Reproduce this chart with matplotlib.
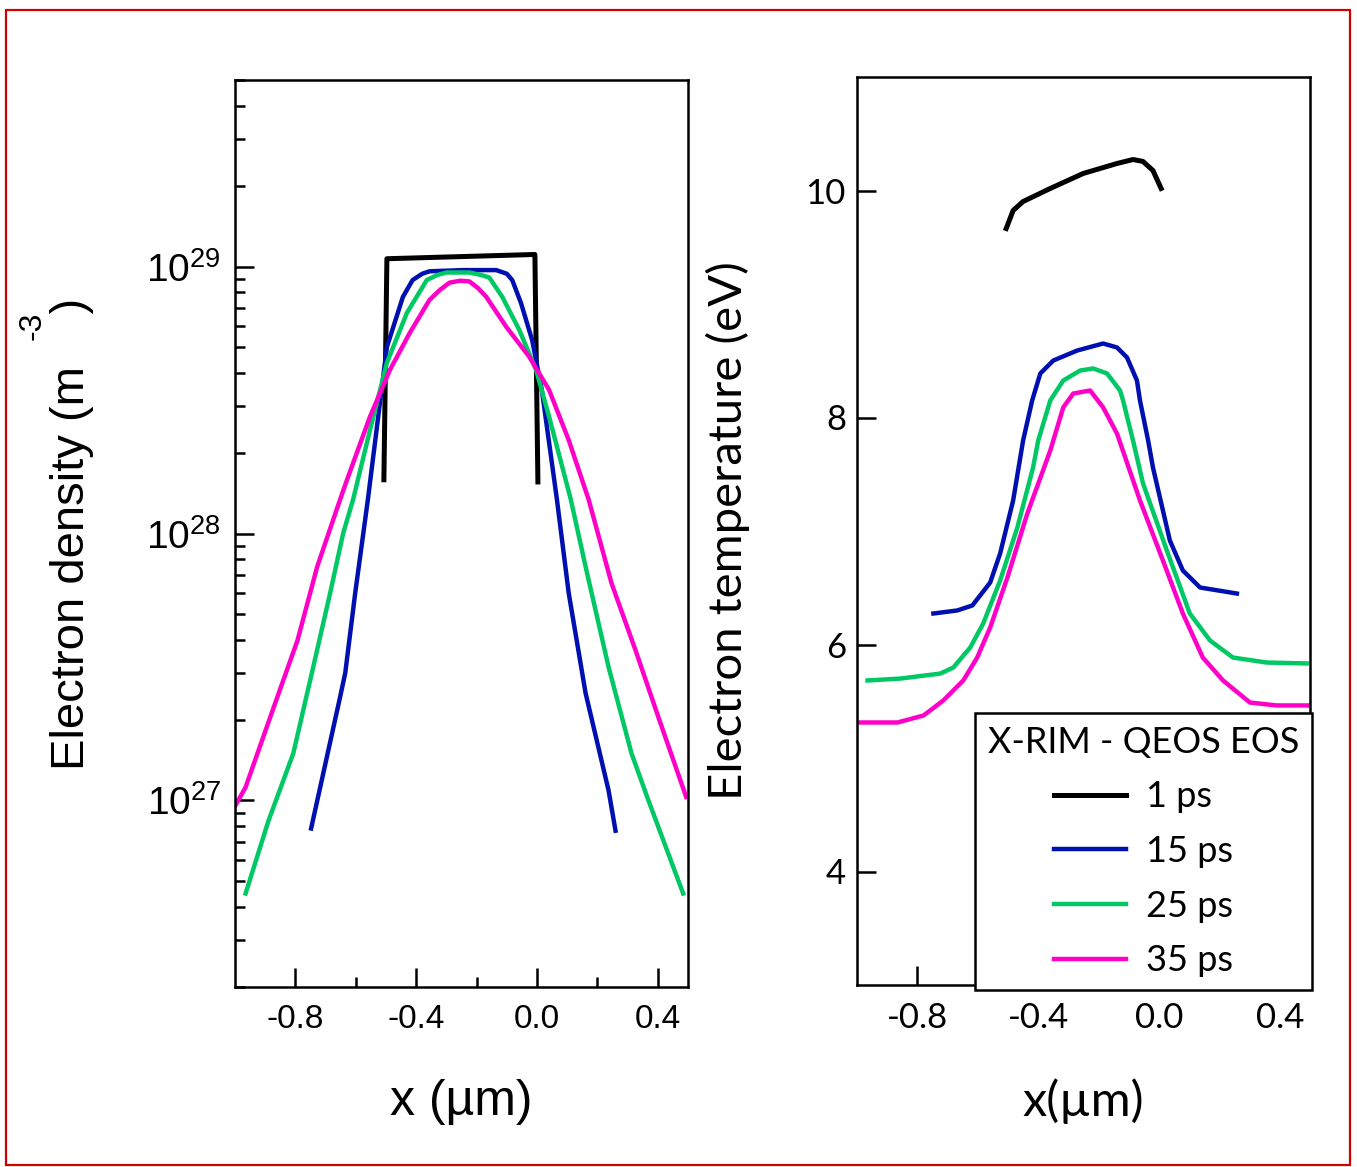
"""Electron density and temperature profiles, X-RIM with QEOS EOS."""

import math
import matplotlib
matplotlib.use("Agg")
import matplotlib.pyplot as plt
from matplotlib.ticker import FixedLocator, LogLocator, FuncFormatter, NullFormatter
from matplotlib.patches import Rectangle

plt.rcParams['font.family'] = ['Liberation Sans', 'DejaVu Sans']
plt.rcParams['mathtext.fontset'] = 'custom'
plt.rcParams['mathtext.rm'] = 'Liberation Sans'
plt.rcParams['mathtext.it'] = 'Liberation Sans:italic'

# ---- left panel: electron density (m^-3) ----
x_dens_1 = [-0.507, -0.497, -0.25, -0.007, 0.003]
n_dens_1 = [1.59e28, 1.07e29, 1.09e29, 1.11e29, 1.56e28]

x_dens_15 = [-0.748, -0.652, -0.635, -0.602, -0.560, -0.497, -0.444, -0.412, -0.380, -0.356,
             -0.247, -0.135, -0.100, -0.082, -0.053, -0.016, 0.016, 0.066, 0.105, 0.161,
             0.237, 0.260]
n_dens_15 = [7.85e26, 2.44e27, 3.0e27, 5.98e27, 1.34e28, 5.0e28, 7.7e28, 8.9e28, 9.4e28, 9.6e28,
             9.7e28, 9.7e28, 9.4e28, 8.9e28, 7.3e28, 5.3e28, 3.45e28, 1.34e28, 5.98e27, 2.52e27,
             1.09e27, 7.7e26]

x_dens_25 = [-0.965, -0.889, -0.807, -0.741, -0.685, -0.642, -0.609, -0.553, -0.497, -0.431,
             -0.365, -0.330, -0.300, -0.224, -0.185, -0.158, -0.115, -0.059, -0.003, 0.040,
             0.112, 0.161, 0.237, 0.313, 0.369, 0.484]
n_dens_25 = [4.48e26, 8.4e26, 1.5e27, 3.16e27, 5.98e27, 1.0e28, 1.34e28, 2.44e28, 4.36e28, 6.7e28,
             8.9e28, 9.3e28, 9.5e28, 9.5e28, 9.3e28, 9.1e28, 7.7e28, 5.8e28, 4.1e28, 2.74e28,
             1.34e28, 7.5e27, 3.16e27, 1.5e27, 1.0e27, 4.48e26]

x_dens_35 = [-0.998, -0.965, -0.872, -0.793, -0.728, -0.652, -0.629, -0.553, -0.487, -0.421,
             -0.356, -0.320, -0.290, -0.255, -0.224, -0.195, -0.168, -0.102, -0.026, 0.040,
             0.105, 0.171, 0.247, 0.326, 0.402, 0.494]
n_dens_35 = [9.6e26, 1.12e27, 2.23e27, 3.98e27, 7.5e27, 1.34e28, 1.59e28, 2.74e28, 4.1e28, 5.65e28,
             7.5e28, 8.2e28, 8.7e28, 8.85e28, 8.8e28, 8.3e28, 7.7e28, 5.95e28, 4.6e28, 3.45e28,
             2.24e28, 1.34e28, 6.5e27, 3.66e27, 2.05e27, 1.03e27]

# ---- right panel: electron temperature (eV) ----
x_temp_1 = [-0.506, -0.483, -0.450, -0.360, -0.251, -0.139, -0.086, -0.053, -0.020, 0.007]
t_temp_1 = [9.665, 9.824, 9.903, 10.018, 10.150, 10.238, 10.273, 10.256, 10.176, 10.018]

x_temp_15 = [-0.747, -0.668, -0.618, -0.559, -0.526, -0.483, -0.450, -0.420, -0.393, -0.350,
             -0.271, -0.185, -0.139, -0.106, -0.073, -0.063, -0.036, -0.020, 0.036, 0.079,
             0.136, 0.258]
t_temp_15 = [6.273, 6.300, 6.344, 6.546, 6.802, 7.269, 7.797, 8.150, 8.388, 8.502,
             8.590, 8.652, 8.617, 8.529, 8.326, 8.150, 7.797, 7.559, 6.916, 6.652,
             6.502, 6.449]

x_temp_25 = [-0.965, -0.856, -0.724, -0.681, -0.625, -0.582, -0.526, -0.469, -0.417, -0.400,
             -0.360, -0.317, -0.261, -0.218, -0.172, -0.129, -0.119, -0.086, -0.053, 0.026,
             0.102, 0.169, 0.245, 0.357, 0.489]
t_temp_25 = [5.683, 5.700, 5.744, 5.797, 5.974, 6.185, 6.564, 7.031, 7.559, 7.797,
             8.150, 8.326, 8.414, 8.432, 8.388, 8.238, 8.150, 7.797, 7.419, 6.828,
             6.273, 6.035, 5.885, 5.841, 5.833]

x_temp_35 = [-0.998, -0.866, -0.780, -0.714, -0.648, -0.602, -0.559, -0.502, -0.436, -0.360,
             -0.317, -0.284, -0.228, -0.185, -0.139, -0.063, 0.013, 0.079, 0.145, 0.212,
             0.301, 0.390, 0.493]
t_temp_35 = [5.313, 5.313, 5.374, 5.507, 5.683, 5.885, 6.150, 6.590, 7.154, 7.709,
             8.089, 8.211, 8.238, 8.089, 7.858, 7.269, 6.740, 6.273, 5.885, 5.683,
             5.489, 5.463, 5.463]

labels = ['1 ps', '15 ps', '25 ps', '35 ps']
colors = ['#000000', '#0010b0', '#00c864', '#ff00c8']
legend_title = 'X-RIM - QEOS EOS'
x_ticks = [-0.8, -0.4, 0.0, 0.4]
x_minor = [-0.6, -0.2, 0.2]
t_ticks = [4, 6, 8, 10]

W, H = 1357, 1167
fig = plt.figure(figsize=(W / 100, H / 100), dpi=100)


def fig_rect(left, top, right, bottom):
    return [left / W, 1 - bottom / H, (right - left) / W, (bottom - top) / H]


def style_axes(ax, tick_font, size):
    for sp in ax.spines.values():
        sp.set_linewidth(1.8)
    ax.tick_params(which='both', direction='in', top=False, right=False, width=1.8,
                   labelsize=size, labelfontfamily=tick_font)
    ax.tick_params(which='major', length=14)
    ax.tick_params(which='minor', length=7)
    ax.tick_params(axis='x', which='major', pad=12)


# left panel
ax1 = fig.add_axes(fig_rect(235, 80, 688, 987))
ax1.plot(x_dens_1, n_dens_1, color=colors[0], lw=3.6, solid_joinstyle='round')
ax1.plot(x_dens_15, n_dens_15, color=colors[1], lw=3.2)
ax1.plot(x_dens_25, n_dens_25, color=colors[2], lw=3.2)
ax1.plot(x_dens_35, n_dens_35, color=colors[3], lw=3.2)
ax1.set_yscale('log')
ax1.set_xlim(-1.0, 0.5)
ax1.set_ylim(2e26, 5e29)
ax1.yaxis.set_major_locator(LogLocator(base=10, numticks=10))
ax1.yaxis.set_minor_locator(LogLocator(base=10, subs=range(2, 10), numticks=20))
ax1.yaxis.set_minor_formatter(NullFormatter())
ax1.yaxis.set_major_formatter(FuncFormatter(
    lambda v, p: r'$\mathregular{10^{%d}}$' % round(math.log10(v))))
ax1.xaxis.set_major_locator(FixedLocator(x_ticks))
ax1.xaxis.set_minor_locator(FixedLocator(x_minor))
ax1.set_xticklabels(['%.1f' % v for v in x_ticks])
style_axes(ax1, 'Liberation Sans', 24)
ax1.tick_params(axis='y', which='major', pad=10, labelsize=28)
ax1.set_xlabel(u'x (\u00b5m)', fontsize=36, labelpad=32)
ax1.set_ylabel('Electron density (m    )', fontsize=34, labelpad=38)
fig.text(33 / W, 1 - 326 / H, '-3', rotation=90, fontsize=23, ha='center', va='center')

# right panel
ax2 = fig.add_axes(fig_rect(857, 77, 1310, 985))
lines = []
for xs, ts, c, lab, lw in zip([x_temp_1, x_temp_15, x_temp_25, x_temp_35],
                              [t_temp_1, t_temp_15, t_temp_25, t_temp_35],
                              colors, labels, [3.6, 3.2, 3.2, 3.2]):
    ln, = ax2.plot(xs, ts, color=c, lw=lw, label=lab)
    lines.append(ln)
ax2.set_xlim(-1.0, 0.5)
ax2.set_ylim(3, 11)
ax2.xaxis.set_major_locator(FixedLocator(x_ticks))
ax2.xaxis.set_minor_locator(FixedLocator(x_minor))
ax2.set_xticklabels(['%.1f' % v for v in x_ticks])
ax2.yaxis.set_major_locator(FixedLocator(t_ticks))
style_axes(ax2, 'Lato', 25)
ax2.tick_params(axis='y', which='major', pad=8)
ax2.set_xlabel(u'x(\u00b5m)', fontsize=35, family='Lato', labelpad=32)
ax2.set_ylabel('Electron temperature (eV)', fontsize=34, family='Lato', labelpad=40)

leg = ax2.legend(handles=lines, title=legend_title, loc='lower right',
                 bbox_to_anchor=(1312 / W, 1 - 990 / H), bbox_transform=fig.transFigure,
                 prop={'family': 'Lato', 'size': 26}, title_fontproperties={'family': 'Lato', 'size': 26},
                 frameon=True, fancybox=False, framealpha=1, edgecolor='black',
                 handlelength=2.0, handletextpad=0.55, labelspacing=0.6, borderpad=0.35,
                 borderaxespad=0)
leg.get_frame().set_linewidth(1.8)
leg.set_zorder(10)

# red outer frame
fig.patches.append(Rectangle((6 / W, 2 / H), 1344 / W, 1155 / H, transform=fig.transFigure,
                             fill=False, edgecolor='#d40000', lw=1.6))

fig.savefig('out.png', dpi=100)
